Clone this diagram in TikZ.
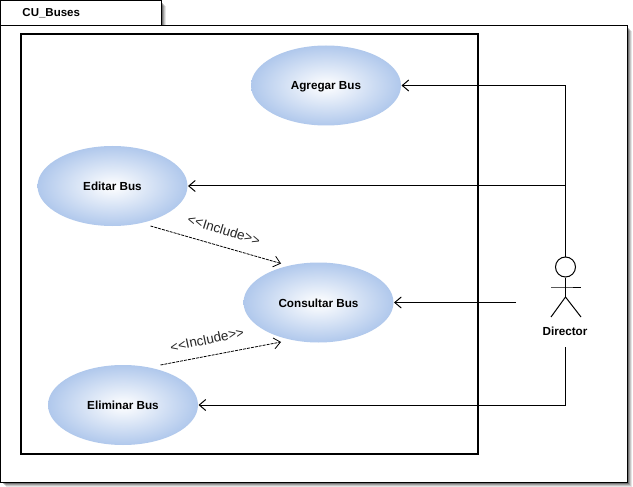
\documentclass[tikz,border=0pt]{standalone}
\usepackage{fontspec}
\setmainfont{Liberation Sans}
\usetikzlibrary{arrows.meta,shapes.geometric}
\definecolor{usecaseblue}{RGB}{176,200,236}
\tikzset {>={Straight Barb[length=6.5pt,width=11pt]}}
\tikzset{
  usecase/.style={ellipse,minimum width=150pt,minimum height=80pt,inner sep=0pt,
    text height=9pt,text depth=0pt,
    inner color=white,outer color=usecaseblue,
    font=\fontsize{11.7}{14}\selectfont\bfseries},
  stereo/.style={inner sep=0pt,text=black!85,font=\fontsize{13.5}{14}\selectfont},
  framelabel/.style={inner sep=0pt,anchor=west,font=\fontsize{11.5}{14}\selectfont\bfseries},
}

\begin{document}
\begin{tikzpicture}[x=1pt,y=-1pt,line width=1pt]
\useasboundingbox (0,0) rectangle (633,487);
% drop shadow of the frame and tab
\foreach \d/\op in {6/.1,5/.14,4/.2,3/.28,2/.34} {
  \fill[black,opacity=\op] (\d,25+\d) rectangle (627+\d-1,482+\d-1);
  \fill[black,opacity=\op] (\d,\d) rectangle (161+\d-1,25+\d);
}
\draw[fill=white] (.5,25.5) rectangle (627,482);
\draw[fill=white] (.5,.5) rectangle (161,25.5);
\node[framelabel] (title) at (22,13) {CU\_Buses};
\draw[line width=2pt] (21,34) rectangle (478,454);
% use cases
\node[usecase] (agregar) at (326,85.5) {Agregar Bus};
\node[usecase] (editar) at (112.5,186) {Editar Bus};
\node[usecase] (consultar) at (318.5,302.5) {Consultar Bus};
\node[usecase] (eliminar) at (123,405) {Eliminar Bus};
% actor
\node[draw,circle,minimum size=20pt,inner sep=0pt] (head) at (565.5,267) {};
\coordinate (hip) at (565.5,297);
\coordinate (neck) at (565.5,287);
\draw (head) -- (hip);
\draw (551,287) -- (neck) -- (581,287);
\draw (551,317) -- (hip) -- (581,317);
\node[inner sep=0pt,font=\fontsize{11.7}{14}\selectfont\bfseries] (director) at (565,331.5) {Director};
% associations
\coordinate (branch) at (565.5,186);
\coordinate (dirleft) at (516,302.5);
\coordinate (dirbottom) at (565.5,347);
\draw[->] (head) |- (agregar.east);
\draw[->] (branch) -- (editar.east);
\draw[->] (dirleft) -- (consultar.east);
\draw[->] (dirbottom) |- (eliminar.east);
% includes
\coordinate (editout) at (150.5,226);
\coordinate (consultin) at (281,263.5);
\coordinate (elimout) at (160.5,365);
\coordinate (consultin2) at (281,342);
\draw[->,dashed,dash pattern=on 3pt off 1pt,line width=.8pt] (editout) -- (consultin);
\draw[->,dashed,dash pattern=on 3pt off 1pt,line width=.8pt] (elimout) -- (consultin2);
\node[stereo,rotate=-17] (inclA) at (224,230) {<{}<Include>{}>};
\node[stereo,rotate=12] (inclB) at (207,339.5) {<{}<Include>{}>};
\end{tikzpicture}
\end{document}
